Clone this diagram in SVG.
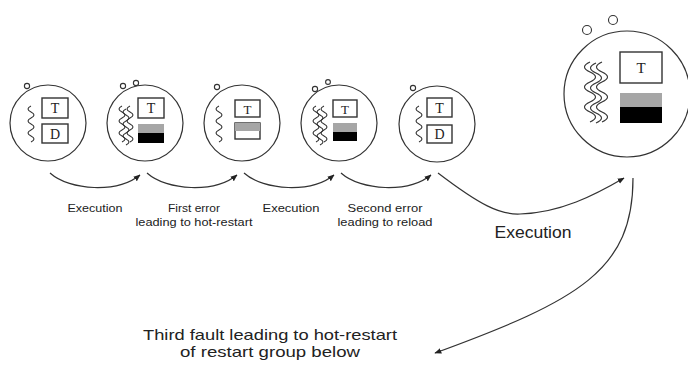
<svg xmlns="http://www.w3.org/2000/svg" width="688" height="376" viewBox="0 0 688 376">
<style>
.ring{fill:#fff;stroke:#333;stroke-width:1.2}
.bub{fill:#fff;stroke:#333;stroke-width:1.1}
.box{fill:#fff;stroke:#333;stroke-width:1.4}
.gray{fill:#a6a6a6}
.blk{fill:#000}
.wave{fill:none;stroke:#333;stroke-width:1.1}
.lbl{font-family:"Liberation Sans",Arial,sans-serif;fill:#222;text-anchor:middle}
.let{font-family:"Liberation Serif","Times New Roman",serif;fill:#222;text-anchor:middle}
.conn{fill:none;stroke:#333;stroke-width:1.2}
</style>
<defs>
<marker id="ah" viewBox="0 0 10 10" refX="9" refY="5" markerWidth="7" markerHeight="7" markerUnits="userSpaceOnUse" orient="auto">
<path d="M0,1 L10,5 L0,9 Z" fill="#222"/>
</marker>
<path id="w1" d="M0,0 q-6,3 0,6 t0,6 t0,6 t0,6 t0,6 t0,6"/>
<path id="w2" d="M0,0 q-11,5 0,10 t0,10 t0,10 t0,10 t0,10 t0,10"/>
</defs>
<rect width="688" height="376" fill="#fff"/>

<g id="node1">
<circle class="ring" cx="48" cy="123" r="38"/>
<circle class="bub" cx="27" cy="86" r="2.6"/>
<use href="#w1" class="wave" x="31" y="106"/>
<rect class="box" x="42" y="98" width="26" height="20"/>
<text class="let" x="55" y="113" font-size="14">T</text>
<rect class="box" x="42" y="124" width="26" height="19"/>
<text class="let" x="55" y="139" font-size="14">D</text>
</g>

<g id="node2">
<circle class="ring" cx="145" cy="123" r="38"/>
<circle class="bub" cx="123" cy="86" r="2.6"/>
<circle class="bub" cx="136" cy="83" r="2.6"/>
<use href="#w1" class="wave" x="122" y="106"/>
<use href="#w1" class="wave" x="126" y="109"/>
<use href="#w1" class="wave" x="130" y="106"/>
<rect class="box" x="138" y="98" width="26" height="20"/>
<text class="let" x="151" y="113" font-size="14">T</text>
<rect class="gray" x="138" y="124" width="26" height="9"/>
<rect class="blk" x="138" y="133" width="26" height="10"/>
</g>

<g id="node3">
<circle class="ring" cx="242" cy="123" r="38"/>
<circle class="bub" cx="217" cy="87" r="2.6"/>
<use href="#w1" class="wave" x="219" y="106"/>
<rect class="box" x="235" y="100" width="25" height="17"/>
<text class="let" x="247.5" y="114" font-size="13">T</text>
<rect class="box" x="235" y="123" width="25" height="16"/>
<rect class="gray" x="235" y="123" width="25" height="8"/>
</g>

<g id="node4">
<circle class="ring" cx="339" cy="123" r="38"/>
<circle class="bub" cx="315" cy="89" r="2.6"/>
<circle class="bub" cx="328" cy="82" r="2.4"/>
<use href="#w1" class="wave" x="316" y="106"/>
<use href="#w1" class="wave" x="320" y="109"/>
<use href="#w1" class="wave" x="324" y="106"/>
<rect class="box" x="333" y="100" width="24" height="17"/>
<text class="let" x="345" y="114" font-size="13">T</text>
<rect class="gray" x="333" y="123" width="24" height="9"/>
<rect class="blk" x="333" y="132" width="24" height="9"/>
</g>

<g id="node5">
<circle class="ring" cx="437" cy="124" r="38"/>
<circle class="bub" cx="413" cy="88" r="2.6"/>
<use href="#w1" class="wave" x="419" y="106"/>
<rect class="box" x="427" y="98" width="25" height="19"/>
<text class="let" x="439.5" y="113" font-size="14">T</text>
<rect class="box" x="427" y="125" width="25" height="18"/>
<text class="let" x="439.5" y="139" font-size="14">D</text>
</g>

<g id="node6">
<circle class="ring" cx="627" cy="94" r="63"/>
<circle class="bub" cx="587" cy="30" r="4.5"/>
<circle class="bub" cx="613" cy="20" r="4.5"/>
<use href="#w2" class="wave" x="590" y="62"/>
<use href="#w2" class="wave" x="596" y="63"/>
<use href="#w2" class="wave" x="602" y="62"/>
<rect class="box" x="620" y="52" width="42" height="31"/>
<text class="let" x="641" y="73" font-size="15">T</text>
<rect class="gray" x="620" y="93" width="42" height="14"/>
<rect class="blk" x="620" y="107" width="42" height="16"/>
</g>

<g id="connectors">
<path class="conn" marker-end="url(#ah)" d="M50,173 C70,191 118,193 140,175"/>
<path class="conn" marker-end="url(#ah)" d="M147,173 C167,191 215,193 237,175"/>
<path class="conn" marker-end="url(#ah)" d="M244,173 C264,191 312,193 334,175"/>
<path class="conn" marker-end="url(#ah)" d="M341,173 C361,191 409,193 431,175"/>
<path class="conn" marker-end="url(#ah)" d="M438,173 C480,205 500,215 520,214 C560,213 595,195 624,178"/>
<path class="conn" marker-end="url(#ah)" d="M633,178 C633,270 580,300 435,353"/>
</g>

<g id="labels">
<text class="lbl" x="95" y="212" font-size="11.5" textLength="55" lengthAdjust="spacingAndGlyphs">Execution</text>
<text class="lbl" x="194" y="212" font-size="11.5" textLength="52" lengthAdjust="spacingAndGlyphs">First error</text>
<text class="lbl" x="194" y="226" font-size="11.5" textLength="117" lengthAdjust="spacingAndGlyphs">leading to hot-restart</text>
<text class="lbl" x="291" y="212" font-size="11.5" textLength="57" lengthAdjust="spacingAndGlyphs">Execution</text>
<text class="lbl" x="385" y="212" font-size="11.5" textLength="75" lengthAdjust="spacingAndGlyphs">Second error</text>
<text class="lbl" x="385" y="226" font-size="11.5" textLength="95" lengthAdjust="spacingAndGlyphs">leading to reload</text>
<text class="lbl" x="533" y="238" font-size="16" textLength="77" lengthAdjust="spacingAndGlyphs">Execution</text>
<text class="lbl" x="270" y="340" font-size="15" textLength="254" lengthAdjust="spacingAndGlyphs">Third fault leading to hot-restart</text>
<text class="lbl" x="270" y="357" font-size="15" textLength="180" lengthAdjust="spacingAndGlyphs">of restart group below</text>
</g>
</svg>
